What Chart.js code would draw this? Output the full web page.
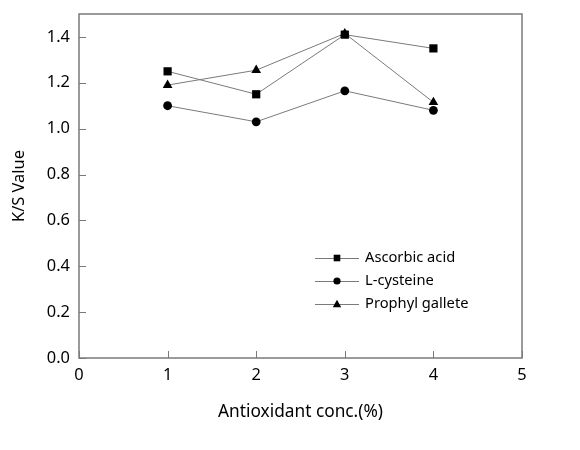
<!DOCTYPE html>
<html>
<head>
<meta charset="utf-8">
<script src="https://cdn.jsdelivr.net/npm/chart.js@4.4.1/dist/chart.umd.min.js"></script>
<style>
  html, body { margin: 0; padding: 0; background: #fff; }
  #wrap { width: 580px; height: 450px; overflow: hidden; }
</style>
</head>
<body>
<div id="wrap"><canvas id="chart" width="580" height="450"></canvas></div>
<script>
// Data
const concentrations = [1, 2, 3, 4];
const ascorbicAcid = [1.25, 1.15, 1.41, 1.35];
const lCysteine = [1.10, 1.03, 1.165, 1.08];
const propylGallete = [1.19, 1.255, 1.415, 1.115];
const seriesNames = ['Ascorbic acid', 'L-cysteine', 'Prophyl gallete'];
const yTicks = [0, 0.2, 0.4, 0.6, 0.8, 1.0, 1.2, 1.4];
const xTicks = [0, 1, 2, 3, 4, 5];

const FONT = '"Noto Sans", "Open Sans", sans-serif';
const LINE = '#7a7a7a';

function toPoints(values) {
    return concentrations.map((x, i) => ({ x: x, y: values[i] }));
}

const seriesMarkers = ['rect', 'circle', 'triangle'];
const seriesValues = [ascorbicAcid, lCysteine, propylGallete];
const markerRadius = { rect: 5.8, circle: 4.4, triangle: 5.6 };

// Box, inner ticks and legend drawn on top of the chart
const framePlugin = {
    id: 'frame',
    afterDraw(chart) {
        const ctx = chart.ctx;
        const area = chart.chartArea;
        const xs = chart.scales.x;
        const ys = chart.scales.y;
        ctx.save();
        ctx.strokeStyle = LINE;
        ctx.lineWidth = 1.5;
        ctx.strokeRect(area.left, area.top, area.right - area.left, area.bottom - area.top);

        // inward tick marks
        ctx.lineWidth = 1;
        ctx.beginPath();
        yTicks.forEach(v => {
            const py = Math.round(ys.getPixelForValue(v)) + 0.5;
            ctx.moveTo(area.left, py);
            ctx.lineTo(area.left + 7, py);
        });
        xTicks.forEach(v => {
            const px = Math.round(xs.getPixelForValue(v)) + 0.5;
            ctx.moveTo(px, area.bottom);
            ctx.lineTo(px, area.bottom - 7);
        });
        ctx.stroke();

        // legend in lower right of plot
        const lx = 315;
        let ly = 258;
        ctx.font = '14.7px ' + FONT;
        ctx.textBaseline = 'middle';
        seriesNames.forEach((name, i) => {
            ctx.strokeStyle = LINE;
            ctx.beginPath();
            ctx.moveTo(lx, ly + 0.5);
            ctx.lineTo(lx + 44, ly + 0.5);
            ctx.stroke();
            const cx = lx + 22;
            ctx.fillStyle = '#000';
            if (seriesMarkers[i] === 'rect') {
                ctx.fillRect(cx - 3.3, ly - 3.3, 6.6, 6.6);
            } else if (seriesMarkers[i] === 'circle') {
                ctx.beginPath();
                ctx.arc(cx, ly, 3.6, 0, Math.PI * 2);
                ctx.fill();
            } else {
                ctx.beginPath();
                ctx.moveTo(cx, ly - 4.2);
                ctx.lineTo(cx + 4.2, ly + 3.3);
                ctx.lineTo(cx - 4.2, ly + 3.3);
                ctx.closePath();
                ctx.fill();
            }
            ctx.fillText(name, lx + 50, ly);
            ly += 23;
        });
        ctx.restore();
    }
};

const datasets = seriesValues.map((vals, i) => ({
    label: seriesNames[i],
    data: toPoints(vals),
    showLine: true,
    borderColor: LINE,
    borderWidth: 1,
    pointStyle: seriesMarkers[i],
    pointRadius: markerRadius[seriesMarkers[i]],
    pointBackgroundColor: '#000',
    pointBorderColor: '#000',
    pointBorderWidth: 0,
}));

new Chart(document.getElementById('chart').getContext('2d'), {
    type: 'scatter',
    data: { datasets: datasets },
    options: {
        responsive: false,
        animation: false,
        layout: { padding: { left: 0, right: 58, top: 14, bottom: 26 } },
        plugins: {
            legend: { display: false },
            tooltip: { enabled: false },
        },
        scales: {
            x: {
                type: 'linear',
                min: 0,
                max: 5,
                afterFit: s => { s.height = 66; s.paddingLeft = 0; s.paddingRight = 0; },
                afterBuildTicks: s => { s.ticks = xTicks.map(v => ({ value: v })); },
                grid: { display: false, drawTicks: false },
                border: { display: false },
                ticks: {
                    padding: 7.5,
                    color: '#000',
                    maxRotation: 0,
                    font: { family: FONT, size: 16.4 },
                    callback: v => String(v),
                },
                title: {
                    display: true,
                    text: 'Antioxidant conc.(%)',
                    color: '#000',
                    font: { family: FONT, size: 17.3 },
                    padding: { top: 0, bottom: 2 },
                },
            },
            y: {
                type: 'linear',
                min: 0,
                max: 1.5,
                afterFit: s => { s.width = 79; s.paddingTop = 0; s.paddingBottom = 0; },
                afterBuildTicks: s => { s.ticks = yTicks.map(v => ({ value: v })); },
                grid: { display: false, drawTicks: false },
                border: { display: false },
                ticks: {
                    padding: 9,
                    color: '#000',
                    font: { family: FONT, size: 16.4 },
                    callback: v => v.toFixed(1),
                },
                title: {
                    display: true,
                    text: 'K/S Value',
                    color: '#000',
                    font: { family: FONT, size: 16.4 },
                    padding: { top: 9, bottom: 0 },
                },
            },
        },
    },
    plugins: [framePlugin],
});
</script>
</body>
</html>
